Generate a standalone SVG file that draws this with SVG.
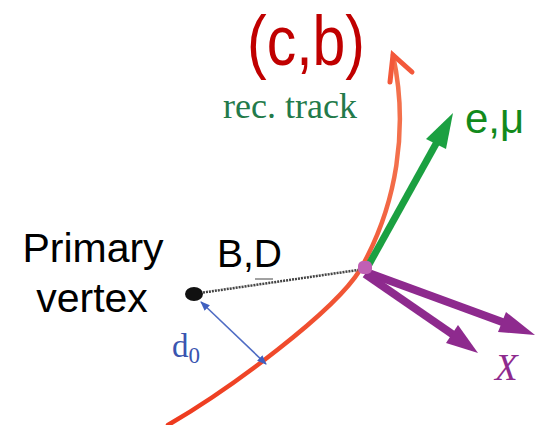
<svg xmlns="http://www.w3.org/2000/svg" width="541" height="425" viewBox="0 0 541 425">
<style>
.sans{font-family:"Liberation Sans",Arial,sans-serif}
.serif{font-family:"Liberation Serif","Times New Roman",serif}
.purple{fill:#8e2a8e}
.pshaft{stroke:#8e2a8e;stroke-width:8;fill:none}
</style>
<defs>
<linearGradient id="trk" gradientUnits="userSpaceOnUse" x1="0" y1="50" x2="0" y2="425">
<stop offset="0" stop-color="#f3704c"/>
<stop offset="0.3" stop-color="#f3704c"/>
<stop offset="1" stop-color="#ee3a1e"/>
</linearGradient>
<marker id="bl" viewBox="0 0 10 10" refX="9" refY="5" markerWidth="6" markerHeight="6" orient="auto-start-reverse">
<path d="M0,1 L10,5 L0,9 z" fill="#4060c0"/>
</marker>
</defs>
<rect width="541" height="425" fill="#ffffff"/>
<g id="connectors">
<path id="track" d="M168,425 C230,389 334,312 360,270 A305 305 0 0 0 393,55" fill="none" stroke="url(#trk)" stroke-width="4.5" stroke-linecap="round"/>
<path d="M390,82 L393,55 L412,72" fill="none" stroke="#f3583a" stroke-width="5" stroke-linecap="round" stroke-linejoin="miter"/>
<line x1="200" y1="293" x2="358" y2="270" stroke="#444444" stroke-width="2.5" stroke-dasharray="2 1"/>
<line x1="201" y1="302" x2="266" y2="364" stroke="#4f6cc4" stroke-width="1.6" marker-start="url(#bl)" marker-end="url(#bl)"/>
<g id="lepton">
<line x1="367" y1="268" x2="437" y2="142" stroke="#1ba041" stroke-width="7"/>
<polygon points="453,113 446,149 426,139" fill="#1ba041"/>
</g>
<g id="x1">
<line class="pshaft" x1="366" y1="272" x2="505" y2="323"/>
<polygon class="purple" points="535,335 506,312 498,332"/>
</g>
<g id="x2">
<line class="pshaft" x1="365" y1="274" x2="455" y2="336"/>
<polygon class="purple" points="478,353 458,325 446,343"/>
</g>
</g>
<g id="secondary-vertex">
<rect x="358" y="261" width="14" height="13" rx="5" fill="#c05fb4"/>
</g>
<g id="primary-vertex">
<ellipse cx="194" cy="294" rx="9" ry="7" fill="#111111"/>
<text class="sans" x="93" y="262" font-size="41" text-anchor="middle" fill="#000">Primary</text>
<text class="sans" x="92" y="312" font-size="41" text-anchor="middle" fill="#000">vertex</text>
</g>
<g id="labels">
<text class="sans" x="247" y="65" font-size="70" fill="#c00000" textLength="118" lengthAdjust="spacingAndGlyphs">(c,b)</text>
<text class="serif" x="223" y="118" font-size="36" fill="#237a4a" textLength="134" lengthAdjust="spacingAndGlyphs">rec. track</text>
<text class="sans" x="465" y="133" font-size="42" fill="#128a1c">e,μ</text>
<text class="sans" x="217" y="267" font-size="39" fill="#000">B,D</text>
<line x1="255" y1="279" x2="273" y2="279" stroke="#444" stroke-width="1"/>
<text class="serif" x="172" y="357" font-size="33" fill="#3a55b0">d<tspan font-size="23" dy="6">0</tspan></text>
<text class="serif" x="495" y="380" font-size="37" font-style="italic" fill="#8e2a8e">X</text>
</g>
</svg>
